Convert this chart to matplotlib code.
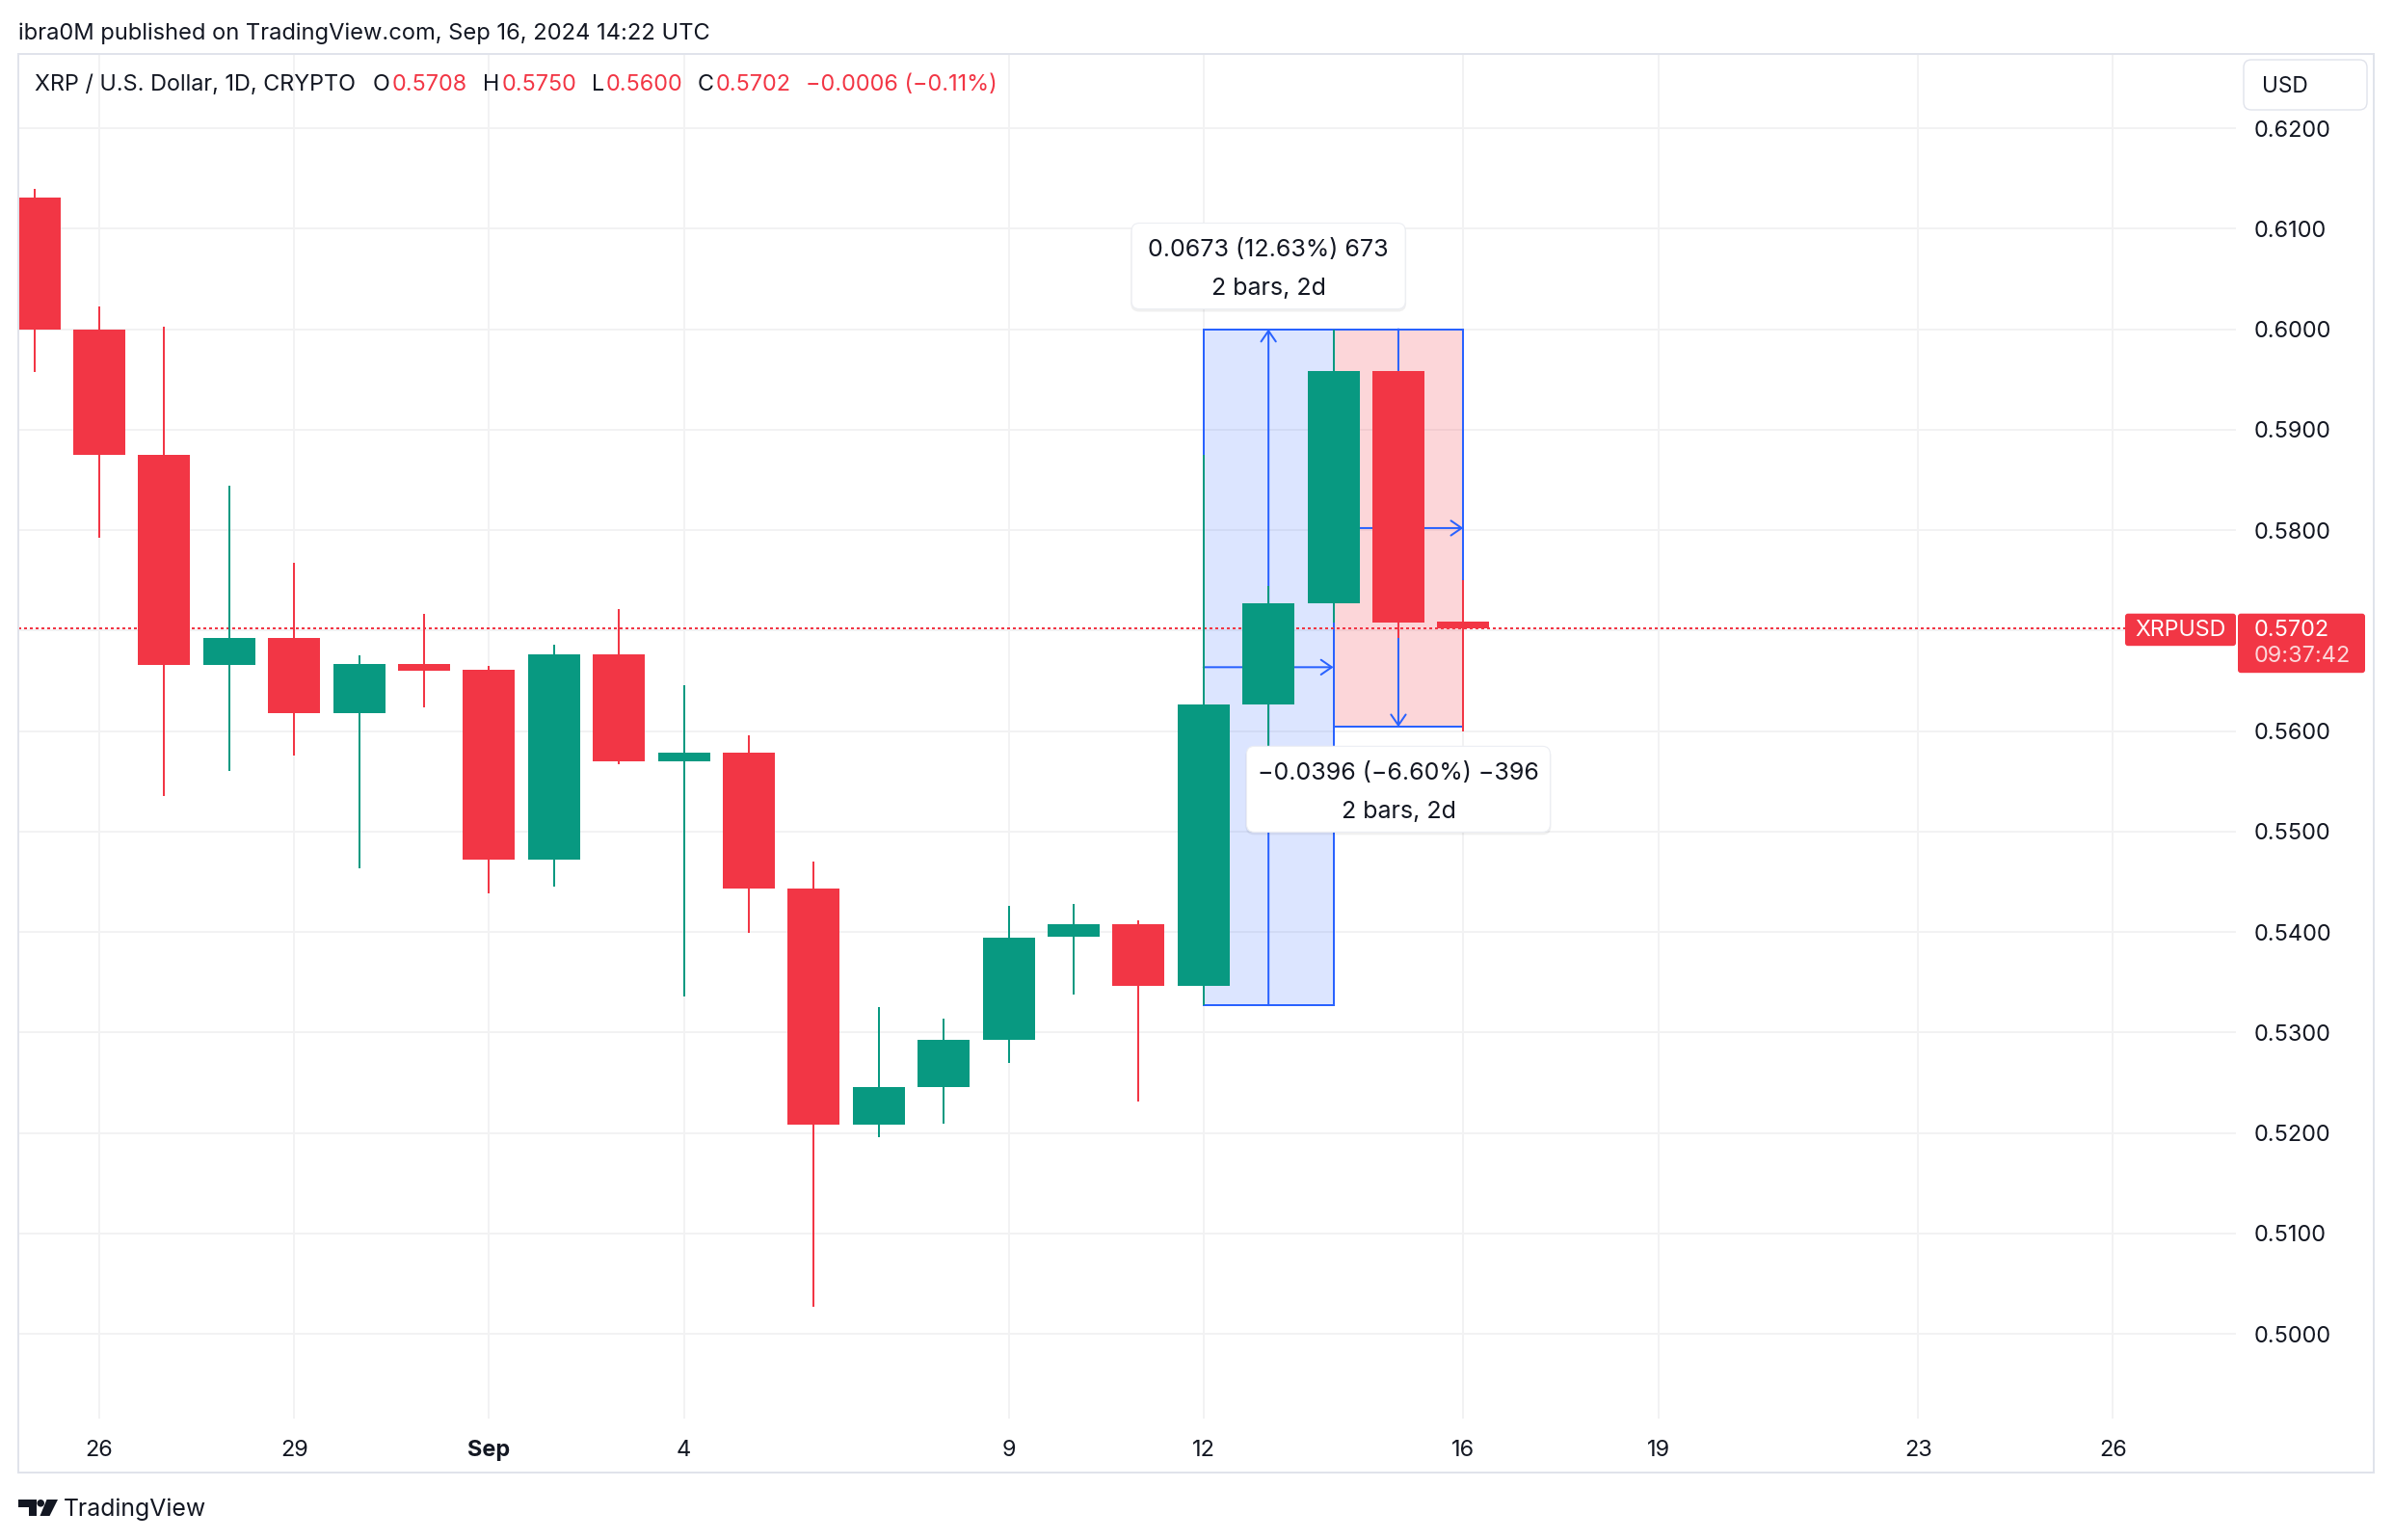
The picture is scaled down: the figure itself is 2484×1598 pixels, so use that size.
import matplotlib
matplotlib.use("Agg")
import matplotlib.pyplot as plt
import matplotlib.colors as mcolors
from matplotlib.patches import Rectangle, FancyBboxPatch, Polygon, Circle
from matplotlib.transforms import IdentityTransform

plt.rcParams['font.family'] = ['Inter', 'DejaVu Sans']

# ---------------- data ----------------
day_labels = ['Aug 25', 'Aug 26', 'Aug 27', 'Aug 28', 'Aug 29', 'Aug 30', 'Aug 31',
              'Sep 1', 'Sep 2', 'Sep 3', 'Sep 4', 'Sep 5', 'Sep 6', 'Sep 7', 'Sep 8',
              'Sep 9', 'Sep 10', 'Sep 11', 'Sep 12', 'Sep 13', 'Sep 14', 'Sep 15', 'Sep 16']
day_pos = list(range(-1, 22))          # days after Aug 26
opens  = [0.6131, 0.6000, 0.5875, 0.5666, 0.5693, 0.5618, 0.5667, 0.5661, 0.5472, 0.5676,
          0.5570, 0.5578, 0.5443, 0.5208, 0.5246, 0.5293, 0.5395, 0.5408, 0.5346, 0.5626,
          0.5727, 0.5958, 0.5708]
highs  = [0.6140, 0.6023, 0.6002, 0.5844, 0.5767, 0.5675, 0.5717, 0.5665, 0.5686, 0.5721,
          0.5646, 0.5596, 0.5470, 0.5325, 0.5314, 0.5426, 0.5428, 0.5412, 0.5875, 0.5744,
          0.6000, 0.5958, 0.5750]
lows   = [0.5957, 0.5792, 0.5535, 0.5560, 0.5576, 0.5463, 0.5624, 0.5438, 0.5445, 0.5567,
          0.5336, 0.5399, 0.5027, 0.5196, 0.5209, 0.5270, 0.5338, 0.5231, 0.5327, 0.5559,
          0.5708, 0.5693, 0.5600]
closes = [0.6000, 0.5875, 0.5666, 0.5693, 0.5618, 0.5667, 0.5660, 0.5472, 0.5676, 0.5570,
          0.5578, 0.5443, 0.5208, 0.5246, 0.5293, 0.5394, 0.5408, 0.5346, 0.5626, 0.5727,
          0.5958, 0.5708, 0.5702]

tick_days = [0, 3, 6, 9, 14, 17, 21, 24, 28, 31]
tick_labels = ['26', '29', 'Sep', '4', '9', '12', '16', '19', '23', '26']
price_ticks = [0.50, 0.51, 0.52, 0.53, 0.54, 0.55, 0.56, 0.57, 0.58, 0.59, 0.60, 0.61, 0.62]

# date & price range measurements
up_x0, up_x1, up_lo, up_hi = 17, 19, 0.5327, 0.6000
dn_x0, dn_x1, dn_hi, dn_lo = 19, 21, 0.6000, 0.5604

symbol_name = 'XRP / U.S. Dollar, 1D, CRYPTO'
header_text = 'ibra0M published on TradingView.com, Sep 16, 2024 14:22 UTC'
countdown = '09:37:42'

# ---------------- style ----------------
UP, DOWN, BLUE = '#089981', '#F23645', '#2962FF'
INK = '#131722'
GRID = '#f2f2f3'
BORDER = '#e0e3eb'

W, H, DPI = 2484, 1598, 100
fig = plt.figure(figsize=(W / DPI, H / DPI), dpi=DPI)
fig.patch.set_facecolor('white')
ID = IdentityTransform()
renderer = fig.canvas.get_renderer()


def fx(px):
    return px / W


def fy(py):
    return 1 - py / H


def fit_size(s, target_w, base=20, **kw):
    t = fig.text(0, 0, s, fontsize=base, **kw)
    w = t.get_window_extent(renderer).width
    t.remove()
    return base * target_w / w


def text_w(t):
    return t.get_window_extent(renderer).width


PANE_L, PANE_R, PANE_T, PANE_B = 19, 2320, 56, 1472
ax = fig.add_axes([fx(PANE_L), fy(PANE_B), (PANE_R - PANE_L) / W, (PANE_B - PANE_T) / H])
ax.set_xlim(-1.246, 32.894)
ax.set_ylim(0.49156, 0.62739)
ax.set_facecolor('white')
for s in ax.spines.values():
    s.set_visible(False)


def data_px(x, y):
    dx, dy = ax.transData.transform((x, y))
    return dx, H - dy


# grid + ticks
price_fs = fit_size('0.6200', 80)
ax.set_yticks(price_ticks)
ax.set_yticklabels(['' if abs(p - 0.57) < 1e-9 else f'{p:.4f}' for p in price_ticks])
ax.set_xticks(tick_days)
ax.set_xticklabels(tick_labels)
ax.yaxis.tick_right()
ax.tick_params(axis='y', length=0, pad=13.7, labelsize=price_fs, labelcolor=INK)
ax.tick_params(axis='x', length=0, pad=15.5, labelsize=price_fs, labelcolor=INK)
for lbl in ax.get_xticklabels():
    if lbl.get_text() == 'Sep':
        lbl.set_fontweight('bold')
ax.grid(True, color=GRID, lw=1.44, zorder=0)
ax.set_axisbelow(True)

# range boxes
ax.add_patch(Rectangle((up_x0, up_lo), up_x1 - up_x0, up_hi - up_lo,
                       facecolor=mcolors.to_rgba(BLUE, 0.16), edgecolor=BLUE, lw=1.44, zorder=2))
ax.add_patch(Rectangle((dn_x0, dn_lo), dn_x1 - dn_x0, dn_hi - dn_lo,
                       facecolor=mcolors.to_rgba(DOWN, 0.2), edgecolor=BLUE, lw=1.44, zorder=2))
ap = dict(arrowstyle='->,head_length=0.8,head_width=0.55', color=BLUE, lw=1.44,
          shrinkA=0, shrinkB=0)
umid_x, umid_y = (up_x0 + up_x1) / 2, (up_lo + up_hi) / 2
dmid_x, dmid_y = (dn_x0 + dn_x1) / 2, (dn_lo + dn_hi) / 2
ax.annotate('', xy=(umid_x, up_hi), xytext=(umid_x, up_lo), arrowprops=ap, zorder=3)
ax.annotate('', xy=(up_x1, umid_y), xytext=(up_x0, umid_y), arrowprops=ap, zorder=3)
ax.annotate('', xy=(dmid_x, dn_lo), xytext=(dmid_x, dn_hi), arrowprops=ap, zorder=3)
ax.annotate('', xy=(dn_x1, dmid_y), xytext=(dn_x0, dmid_y), arrowprops=ap, zorder=3)

# last price line
last_price = closes[-1]
ax.axhline(last_price, color=DOWN, lw=1.44, ls=(0, (1.5, 1.5)), zorder=3.5)

# candles
colors = [UP if c >= o else DOWN for o, c in zip(opens, closes)]
ax.vlines(day_pos, lows, highs, colors=colors, lw=1.44, zorder=4)
bottoms = [min(o, c) for o, c in zip(opens, closes)]
heights = [max(abs(c - o), 0.0007) for o, c in zip(opens, closes)]
ax.bar(day_pos, heights, bottom=bottoms, width=0.8, color=colors, linewidth=0, zorder=5)


# tooltips
def tooltip(cx, cy, lines, above, w, h, gap, fs):
    px, py = data_px(cx, cy)
    top = py - gap - h if above else py + gap
    left = px - w / 2
    fig.add_artist(FancyBboxPatch((left - 1, H - (top + h) - 3), w + 2, h + 2,
                                  boxstyle='round,pad=0,rounding_size=9', transform=ID,
                                  facecolor=(0, 0, 0, 0.06), edgecolor='none'))
    fig.add_artist(FancyBboxPatch((left, H - (top + h)), w, h,
                                  boxstyle='round,pad=0,rounding_size=8', transform=ID,
                                  facecolor='white', edgecolor='#eceef3', lw=0.8))
    fig.text(fx(px), fy(top + 28), lines[0], ha='center', va='center', fontsize=fs, color=INK)
    fig.text(fx(px), fy(top + 68), lines[1], ha='center', va='center', fontsize=fs, color=INK)


def fmt_signed(v):
    return ('−' if v < 0 else '') + f'{abs(v):.4f}'


up_d = up_hi - up_lo
dn_d = dn_lo - dn_hi
up_line = f'{fmt_signed(up_d)} ({up_d / up_lo * 100:.2f}%) {round(up_d * 10000)}'
dn_pct = dn_d / dn_hi * 100
dn_line = f'{fmt_signed(dn_d)} (−{abs(dn_pct):.2f}%) −{abs(round(dn_d * 10000))}'
tip_fs = fit_size(up_line, 249)
tooltip(umid_x, up_hi, [up_line, f'{up_x1 - up_x0} bars, {up_x1 - up_x0}d'], True, 284, 89, 21, tip_fs)
tooltip(dmid_x, dn_lo, [dn_line, f'{dn_x1 - dn_x0} bars, {dn_x1 - dn_x0}d'], False, 315, 89, 20, tip_fs)

# last price tags
_, lp_py = data_px(0, last_price)
fig.add_artist(FancyBboxPatch((2205, H - (lp_py + 18)), 115, 33.5,
                              boxstyle='round,pad=0,rounding_size=3', transform=ID,
                              facecolor=DOWN, edgecolor='none'))
fig.add_artist(FancyBboxPatch((2322, H - (lp_py + 46)), 132, 61.5,
                              boxstyle='round,pad=0,rounding_size=3', transform=ID,
                              facecolor=DOWN, edgecolor='none'))
fig.text(fx(2215), fy(lp_py + 2), 'XRPUSD', color='white', va='center', ha='left',
         fontsize=fit_size('XRPUSD', 95))
fig.text(fx(2339), fy(lp_py + 2), f'{last_price:.4f}', color='white', va='center', ha='left',
         fontsize=price_fs)
fig.text(fx(2339), fy(lp_py + 29), countdown, color=(1, 1, 1, 0.8), va='center', ha='left',
         fontsize=price_fs)

# USD box
fig.add_artist(FancyBboxPatch((2328, H - 114), 128, 52, boxstyle='round,pad=0,rounding_size=8',
                              transform=ID, facecolor='white', edgecolor=BORDER, lw=1.0))
fig.text(fx(2347), fy(90), 'USD', color=INK, va='center', ha='left', fontsize=fit_size('USD', 48))

# outer frame
fig.add_artist(Rectangle((19, H - 1528), 2463 - 19, 1528 - 56, transform=ID,
                         facecolor='none', edgecolor=BORDER, lw=1.44))

# header
fig.text(fx(19), fy(35), header_text, color=INK, va='center', ha='left',
         fontsize=fit_size(header_text, 718))

# symbol line
sym_fs = fit_size(symbol_name, 334)
prev_c = closes[-2]
chg = closes[-1] - prev_c
chg_txt = f'{fmt_signed(chg)} ({"−" if chg < 0 else ""}{abs(chg / prev_c * 100):.2f}%)'
pieces = [(symbol_name, INK, 0), ('O', INK, 17.5), (f'{opens[-1]:.4f}', DOWN, 2),
          ('H', INK, 16), (f'{highs[-1]:.4f}', DOWN, 2), ('L', INK, 15.5),
          (f'{lows[-1]:.4f}', DOWN, 2), ('C', INK, 15), (f'{closes[-1]:.4f}', DOWN, 2),
          (chg_txt, DOWN, 16)]
xcur = 36.5
for s, col, gap in pieces:
    xcur += gap
    t = fig.text(fx(xcur), fy(88), s, color=col, va='center', ha='left', fontsize=sym_fs)
    xcur += text_w(t)

# TradingView logo
y0, y1, ym = 1556, 1573, 1564
fig.add_artist(Polygon([(19, H - y0), (38, H - y0), (38, H - y1), (29.5, H - y1),
                        (29.5, H - ym), (19, H - ym)], closed=True, transform=ID,
                       facecolor=INK, edgecolor='none'))
fig.add_artist(Circle((42.2, H - (y0 + 3.8)), 3.8, transform=ID, facecolor=INK, edgecolor='none'))
fig.add_artist(Polygon([(48.5, H - y0), (60, H - y0), (51.5, H - y1), (41.5, H - y1)],
                       closed=True, transform=ID, facecolor=INK, edgecolor='none'))
fig.text(fx(66), fy(1566), 'TradingView', color=INK, va='center', ha='left',
         fontsize=fit_size('TradingView', 148))

fig.savefig('out.png', dpi=DPI, facecolor='white')
